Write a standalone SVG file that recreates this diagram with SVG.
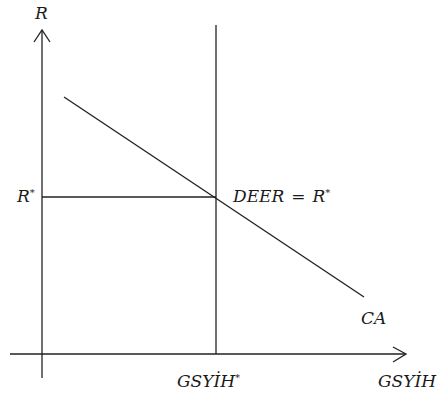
<svg xmlns="http://www.w3.org/2000/svg" width="444" height="396" viewBox="0 0 444 396">
<style>
.ln{stroke:#222;stroke-width:1.3;fill:none}
.t{font-family:"DejaVu Serif","Liberation Serif",serif;font-style:italic;font-size:17px;fill:#1a1a1a}
.s{font-size:10px}
</style>
<rect width="444" height="396" fill="#fff"/>
<g id="connectors">
<line class="ln" x1="42" y1="30" x2="42" y2="378"/>
<polyline class="ln" points="34,42 42,30 50,42"/>
<line class="ln" x1="10" y1="354" x2="406" y2="354"/>
<polyline class="ln" points="393,347 406,354 393,362"/>
<line class="ln" x1="216" y1="25" x2="216" y2="354"/>
<line class="ln" x1="42" y1="197" x2="216" y2="197"/>
<line class="ln" x1="64" y1="97" x2="364" y2="297"/>
</g>
<g id="labels">
<text class="t" x="35" y="19">R</text>
<text class="t" x="17" y="202">R<tspan class="s" dy="-6">*</tspan></text>
<text class="t" x="233" y="202">DEER<tspan dx="7">=</tspan><tspan dx="7">R</tspan><tspan class="s" dy="-6">*</tspan></text>
<text class="t" x="361" y="324">CA</text>
<text class="t" x="177" y="387">GSYİH<tspan class="s" dy="-6">*</tspan></text>
<text class="t" x="378" y="387">GSYİH</text>
</g>
</svg>
